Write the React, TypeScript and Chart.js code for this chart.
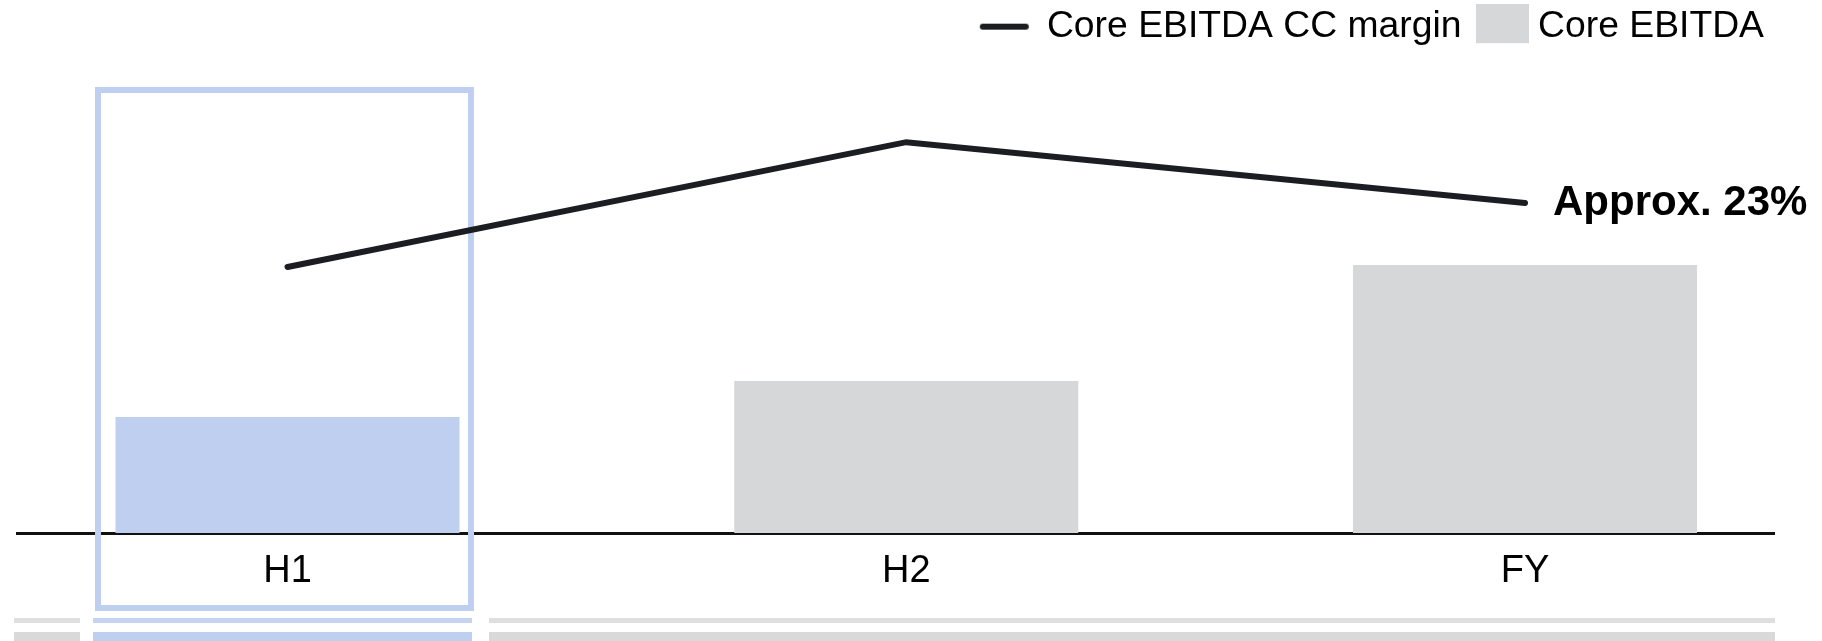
import React, { useEffect, useRef } from 'react';
import { Chart, registerables } from 'chart.js';

Chart.register(...registerables);

// ---- data ----
const categories = ['H1', 'H2', 'FY'];
const coreEbitda = [1.16, 1.52, 2.68];
const ccMargin = [21, 24.9, 23];
const seriesNames = ['Core EBITDA CC margin', 'Core EBITDA'];
const highlightIndex = 0;
const labelIndex = 2;
const labelPrefix = 'Approx. ';

// ---- styles ----
const FONT = '"Liberation Sans", Arial, Helvetica, sans-serif';
const BLUE = '#BFCFF0';
const BLUE_LIGHT = '#C6D4F2';
const GRAY = '#D6D7D9';
const GRAY_STRIP1 = '#DFDFDF';
const GRAY_STRIP2 = '#D9D9D9';
const LINE = '#1B1D22';

function makeLineMarker() {
  const c = document.createElement('canvas');
  c.width = 51;
  c.height = 8;
  const g = c.getContext('2d')!;
  g.strokeStyle = LINE;
  g.lineWidth = 6;
  g.lineCap = 'round';
  g.beginPath();
  g.moveTo(4, 4);
  g.lineTo(47, 4);
  g.stroke();
  return c;
}

function makeBoxMarker() {
  const c = document.createElement('canvas');
  c.width = 67;
  c.height = 45;
  const g = c.getContext('2d')!;
  g.fillStyle = GRAY;
  g.fillRect(14, 0, 53, 39);
  return c;
}

const decorPlugin = {
  id: 'decor',
  beforeDatasetsDraw(chart: any) {
    const ctx = chart.ctx;
    const xs = chart.scales.x;
    const cx = xs.getPixelForValue(highlightIndex) - 3;
    ctx.save();
    // highlight frame
    ctx.strokeStyle = BLUE;
    ctx.lineWidth = 6;
    ctx.strokeRect(cx - 186.5, 90, 373, 518);
    // strips below (table edge)
    const rows = [
      { y: 618, h: 5, gray: GRAY_STRIP1, blue: BLUE_LIGHT },
      { y: 632, h: 12, gray: GRAY_STRIP2, blue: BLUE },
    ];
    rows.forEach((r) => {
      ctx.fillStyle = r.gray;
      ctx.fillRect(14, r.y, 66, r.h);
      ctx.fillRect(489, r.y, 1286, r.h);
      ctx.fillStyle = r.blue;
      ctx.fillRect(93, r.y, 379, r.h);
    });
    ctx.restore();
  },
  afterDatasetsDraw(chart: any) {
    const ctx = chart.ctx;
    const xs = chart.scales.x;
    const ys = chart.scales.y1;
    const x = xs.getPixelForValue(labelIndex) + 28;
    const y = ys.getPixelForValue(ccMargin[labelIndex]);
    ctx.save();
    ctx.font = `bold 42px ${FONT}`;
    ctx.fillStyle = '#000';
    ctx.textAlign = 'left';
    ctx.textBaseline = 'middle';
    ctx.fillText(`${labelPrefix}${ccMargin[labelIndex]}%`, x, y);
    ctx.restore();
  },
};

export default function App() {
  const ref = useRef<HTMLCanvasElement | null>(null);

  useEffect(() => {
    document.body.style.margin = '0';
    if (!ref.current) return;
    Chart.defaults.font.family = FONT;
    const lineMarker = makeLineMarker();
    const boxMarker = makeBoxMarker();

    const chart = new Chart(ref.current, {
      type: 'bar',
      data: {
        datasets: [
          {
            type: 'line',
            label: seriesNames[0],
            data: ccMargin.map((v, i) => ({ x: i, y: v })),
            yAxisID: 'y1',
            borderColor: LINE,
            borderWidth: 6,
            pointRadius: 0,
            borderCapStyle: 'round',
            tension: 0,
            fill: false,
            order: 1,
          } as any,
          {
            type: 'bar',
            label: seriesNames[1],
            data: coreEbitda.map((v, i) => ({ x: i, y: v })),
            yAxisID: 'y',
            backgroundColor: categories.map((_, i) => (i === highlightIndex ? BLUE : GRAY)),
            borderWidth: 0,
            categoryPercentage: 1,
            barPercentage: 0.556,
            order: 2,
          } as any,
        ],
      },
      options: {
        responsive: false,
        animation: false,
        events: [],
        layout: { padding: { left: 17, right: 48, top: -2, bottom: 30.4 } },
        plugins: {
          tooltip: { enabled: false },
          legend: {
            display: true,
            position: 'top',
            align: 'end',
            labels: {
              usePointStyle: true,
              pointStyleWidth: 48,
              padding: 10,
              color: '#000',
              font: { size: 37.3, family: FONT },
              generateLabels: () => [
                {
                  text: seriesNames[0],
                  pointStyle: lineMarker,
                  fillStyle: LINE,
                  strokeStyle: LINE,
                  lineWidth: 0,
                  hidden: false,
                  datasetIndex: 0,
                } as any,
                {
                  text: seriesNames[1],
                  pointStyle: boxMarker,
                  fillStyle: GRAY,
                  strokeStyle: GRAY,
                  lineWidth: 0,
                  hidden: false,
                  datasetIndex: 1,
                } as any,
              ],
            },
          },
        },
        scales: {
          x: {
            type: 'linear',
            offset: false,
            min: -0.4372,
            max: 2.4024,
            afterBuildTicks: (axis: any) => {
              axis.ticks = categories.map((_, i) => ({ value: i }));
            },
            ticks: {
              callback: (v: any) => categories[v] ?? '',
              font: { size: 38, family: FONT },
              color: '#000',
              padding: 16,
              maxRotation: 0,
              autoSkip: false,
            },
            grid: { display: false, drawTicks: false, offset: false },
            border: { display: true, color: '#111', width: 3 },
          },
          y: { display: false, min: 0, max: 4.777 },
          y1: { display: false, min: 12.6875, max: 27.615 },
        },
      } as any,
      plugins: [decorPlugin],
    });
    return () => chart.destroy();
  }, []);

  return (
    <canvas ref={ref} width={1822} height={641} style={{ display: 'block' }} />
  );
}
